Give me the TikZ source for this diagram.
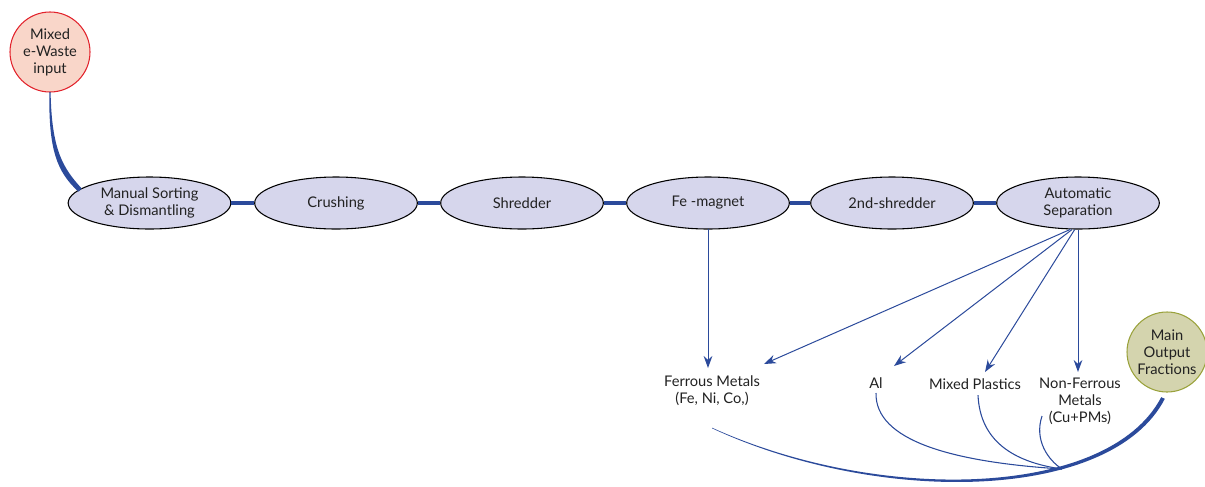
\documentclass[tikz,border=0pt]{standalone}
\usepackage{fontspec}
\setmainfont{Lato}
\usetikzlibrary{shapes.geometric,arrows.meta}
\definecolor{flow}{HTML}{2B4A9B}
\definecolor{stepfill}{HTML}{D6D6EC}
\definecolor{infill}{HTML}{F9D6C9}
\definecolor{inborder}{HTML}{E2232C}
\definecolor{outfill}{HTML}{D4D4AE}
\definecolor{outborder}{HTML}{9AA23C}
\definecolor{txt}{HTML}{222222}
\begin{document}
\begin{tikzpicture}[x=0.75pt,y=-0.75pt,
  every node/.style={font=\fontsize{11}{12.75}\selectfont, text=txt, align=center},
  stepbox/.style={ellipse, draw=black, line width=0.8pt, fill=stepfill,
    minimum width=122pt, minimum height=39pt, inner sep=0pt},
  hub/.style={circle, minimum size=60pt, inner sep=0pt, line width=0.8pt},
  chain/.style={draw=flow, line width=3pt},
  feed/.style={draw=flow, line width=0.75pt, -{Stealth[length=9pt,width=6.5pt]}},
  branch/.style={draw=flow, line width=0.8pt},
  outlabel/.style={inner sep=1pt}]
\useasboundingbox (0,0) rectangle (1205,486);

% input and output hubs
\node[hub, draw=inborder, fill=infill] (input) at (50,52) {Mixed\\e-Waste\\input};
\node[hub, draw=outborder, fill=outfill] (output) at (1167,352) {Main\\Output\\Fractions};

% processing chain
\node[stepbox] (sort)  at (149.5,203) {Manual Sorting\\\& Dismantling};
\node[stepbox] (crush) at (336,203) {Crushing};
\node[stepbox] (shred) at (522,203) {Shredder};
\node[stepbox] (mag)   at (708,203) {Fe -magnet};
\node[stepbox] (shred2) at (892,203) {2nd-shredder};
\node[stepbox] (auto)  at (1078,203) {Automatic\\Separation};

\draw[chain] (sort.east) -- (crush.west);
\draw[chain] (crush.east) -- (shred.west);
\draw[chain] (shred.east) -- (mag.west);
\draw[chain] (mag.east) -- (shred2.west);
\draw[chain] (shred2.east) -- (auto.west);

% tapered link from the input hub into the chain
\fill[flow] (50.6,92) .. controls (51.6,150) and (63,168) .. (81.6,188.4)
  -- (78.4,191.6) .. controls (57,172) and (48.4,150) .. (49.4,92) -- cycle;

% output fractions
\node[outlabel] (ferrous) at (712,391) {Ferrous Metals\\(Fe, Ni, Co,)};
\node[outlabel] (al) at (876,383) {Al};
\node[outlabel] (plastics) at (975,384) {Mixed Plastics};
\node[outlabel] (nonfe) at (1080,401) {Non-Ferrous\\Metals\\(Cu+PMs)};

\coordinate (ferrousTop) at (708,368);
\coordinate (ferrousTip) at (764,364);
\coordinate (alTip) at (894,366);
\coordinate (plTip) at (985,372);
\coordinate (nfTip) at (1078,372);

\draw[feed] (mag.south) ++(0,-1) -- (ferrousTop);
\draw[feed] ([xshift=-6pt]auto.south) -- (ferrousTip);
\draw[feed] ([xshift=-4.5pt]auto.south) -- (alTip);
\draw[feed] ([xshift=-2.5pt]auto.south) -- (plTip);
\draw[feed] ([xshift=0pt]auto.south) -- (nfTip);

% gathering curves into the output hub
\coordinate (join) at (1062,469);
\fill[flow] (1164.8,398.8) .. controls (1111.6,501.8) and (880,506.2) .. (712,428.3)
  -- (712,427.7) .. controls (880,503.8) and (1108.4,498.2) .. (1161.2,397.2) -- cycle;
\draw[branch] (al.south) ++(0,3) .. controls (875,440) and (950,462) .. (join);
\draw[branch] (plastics.south) ++(3,4) .. controls (980,440) and (1012,462) .. (join);
\draw[branch] (1042,416) .. controls (1034,440) and (1048,460) .. (join);
\end{tikzpicture}
\end{document}
